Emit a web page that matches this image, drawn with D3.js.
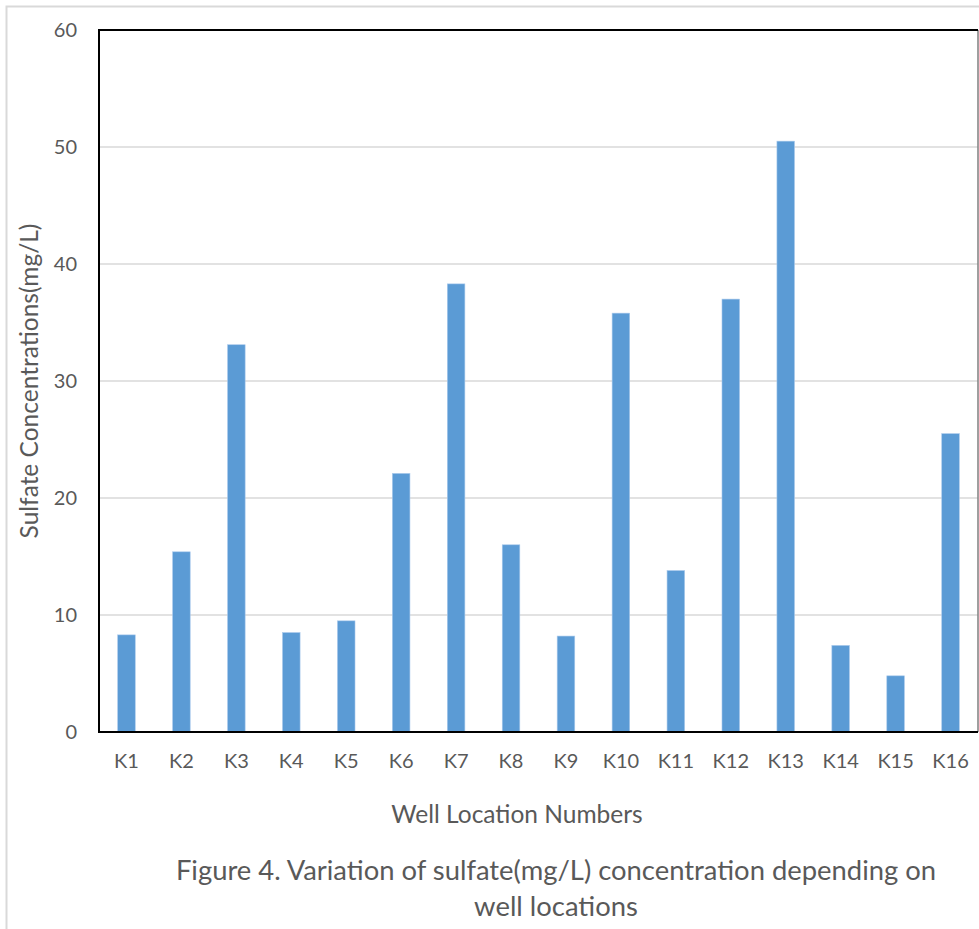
<!DOCTYPE html>
<html>
<head>
<meta charset="utf-8">
<script src="https://cdn.jsdelivr.net/npm/d3@7"></script>
<style>
  html, body { margin: 0; padding: 0; background: #fff; }
  svg { display: block; }
  text { font-family: Lato, "Open Sans", sans-serif; fill: #595959; }
</style>
</head>
<body>
<svg id="chart" width="979" height="929"></svg>
<script>
const categories = ["K1","K2","K3","K4","K5","K6","K7","K8","K9","K10","K11","K12","K13","K14","K15","K16"];
const sulfate = [8.3, 15.4, 33.1, 8.5, 9.5, 22.1, 38.3, 16.0, 8.2, 35.8, 13.8, 37.0, 50.5, 7.4, 4.8, 25.5];
const yTicks = [0, 10, 20, 30, 40, 50, 60];
const yTitle = "Sulfate Concentrations(mg/L)";
const xTitle = "Well Location Numbers";
const captionLines = ["Figure 4. Variation of sulfate(mg/L) concentration depending on", "well locations"];

const svg = d3.select("#chart");
const pL = 99, pR = 978, pT = 30, pB = 732;

// outer frame
svg.append("path")
  .attr("d", "M6.5,929 V6.5 H979")
  .attr("fill", "none").attr("stroke", "#d9d9d9").attr("stroke-width", 2);

const x = d3.scaleBand().domain(categories).range([pL, pR]).paddingInner(0.68).paddingOuter(0.34);
const y = d3.scaleLinear().domain([0, 60]).range([pB, pT]);

// gridlines
svg.append("g").selectAll("line").data(yTicks.filter(t => t > 0 && t < 60)).join("line")
  .attr("x1", pL).attr("x2", pR)
  .attr("y1", d => y(d)).attr("y2", d => y(d))
  .attr("stroke", "#d9d9d9").attr("stroke-width", 1.5);

// bars
svg.append("g").selectAll("rect").data(categories).join("rect")
  .attr("x", d => x(d))
  .attr("width", x.bandwidth())
  .attr("y", (d, i) => y(sulfate[i]))
  .attr("height", (d, i) => y(0) - y(sulfate[i]))
  .attr("fill", "#5b9bd5")
  .attr("stroke", "#a9c9ec").attr("stroke-width", 0.6);

// plot frame
svg.append("line").attr("x1", pR).attr("x2", pR).attr("y1", pT).attr("y2", pB)
  .attr("stroke", "#7f7f7f").attr("stroke-width", 1.5);
svg.append("path").attr("d", `M${pR},${pT} H${pL} V${pB} H${pR}`)
  .attr("fill", "none").attr("stroke", "#000").attr("stroke-width", 2);

// y axis labels
const yAxis = d3.axisLeft(y).tickValues(yTicks).tickSize(0).tickPadding(22);
const gy = svg.append("g").attr("transform", `translate(${pL},0)`).call(yAxis);
gy.select(".domain").remove();
gy.selectAll("text").attr("font-size", 20).style("font-family", "Lato, sans-serif").attr("fill", "#595959");

// x axis labels
const xAxis = d3.axisBottom(x).tickSize(0).tickPadding(22);
const gx = svg.append("g").attr("transform", `translate(0,${pB})`).call(xAxis);
gx.select(".domain").remove();
gx.selectAll("text").attr("font-size", 20).style("font-family", "Lato, sans-serif").attr("fill", "#595959");

// titles
svg.append("text").attr("transform", "translate(38,381) rotate(-90)")
  .attr("text-anchor", "middle").attr("font-size", 24.5).text(yTitle);
svg.append("text").attr("x", 517).attr("y", 823)
  .attr("text-anchor", "middle").attr("font-size", 24.5).text(xTitle);
svg.append("g").selectAll("text").data(captionLines).join("text")
  .attr("x", 556).attr("y", (d, i) => 880 + i * 36)
  .attr("text-anchor", "middle").attr("font-size", 27.4).text(d => d);
</script>
</body>
</html>
